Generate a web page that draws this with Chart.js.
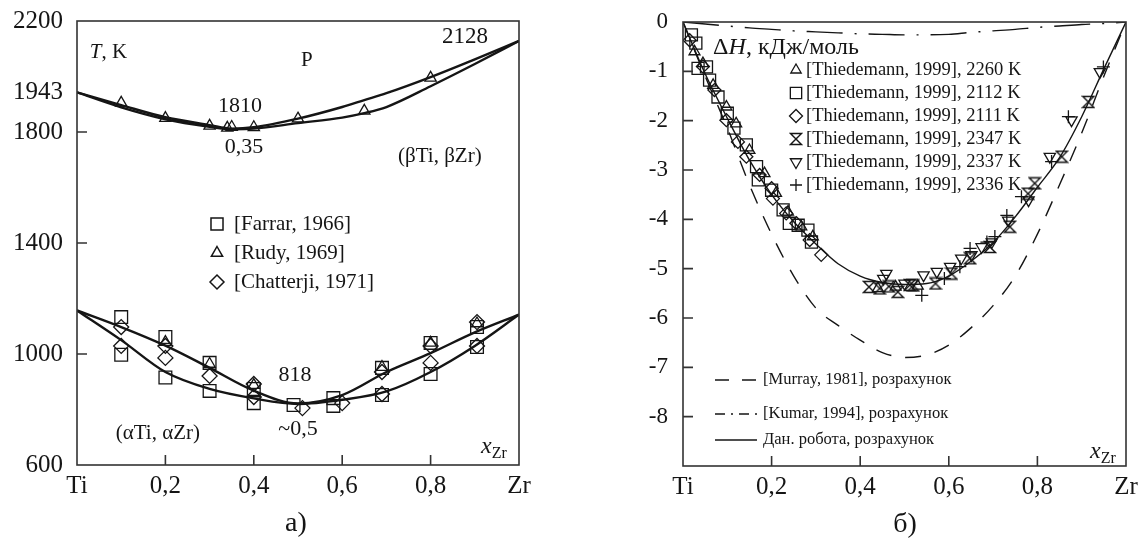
<!DOCTYPE html>
<html lang="uk">
<head>
<meta charset="UTF-8">
<title>Ti–Zr: діаграма стану та ентальпія змішування</title>
<script src="https://cdn.jsdelivr.net/npm/chart.js"></script>
<style>
  body { margin: 0; background: #fff; }
  #wrap { position: relative; width: 1143px; height: 540px; }
  canvas { position: absolute; top: 0; }
  #chartA { left: 0; }
  #chartB { left: 560px; }
</style>
</head>
<body>
<div id="wrap">
  <canvas id="chartA" width="560" height="540"></canvas>
  <canvas id="chartB" width="583" height="540"></canvas>
</div>
<script>
// ---- shared axis ticks ----
const xTickValues = [0, 0.2, 0.4, 0.6, 0.8, 1];
const xTickLabels = ['Ti', '0,2', '0,4', '0,6', '0,8', 'Zr'];
const yTicksA = [600, 1000, 1400, 1800, 1943, 2200];
const yMarksA = [1000, 1400, 1800];
const yTicksB = [0, -1, -2, -3, -4, -5, -6, -7, -8];

// ---- panel a: liquidus / solidus ----
const liqX = [0, 0.1, 0.2, 0.3, 0.35, 0.4, 0.5, 0.6, 0.65, 0.7, 0.8, 0.9, 1];
const liqT = [1943, 1897, 1853, 1825, 1812, 1817, 1848, 1890, 1915, 1940, 1998, 2062, 2128];
const solT = [1943, 1889, 1846, 1819, 1810, 1812, 1832, 1852, 1868, 1890, 1965, 2045, 2128];

// ---- panel a: beta / alpha transus ----
const trX = [0, 0.1, 0.2, 0.3, 0.4, 0.5, 0.6, 0.7, 0.8, 0.9, 1];
const betaT = [1157, 1097, 1030, 950, 868, 822, 852, 935, 1003, 1078, 1142];
const alphaT = [1157, 1050, 935, 874, 840, 820, 835, 865, 935, 1029, 1142];

// ---- panel a: experimental points ----
const farrarX = [0.1, 0.1, 0.2, 0.2, 0.3, 0.3, 0.4, 0.4, 0.49, 0.58, 0.58, 0.69, 0.69, 0.8, 0.8, 0.905, 0.905];
const farrarT = [1133, 997, 1061, 915, 968, 867, 874, 823, 816, 841, 813, 950, 852, 1040, 928, 1097, 1025];
const rudyX = [0.1, 0.2, 0.3, 0.34, 0.35, 0.4, 0.5, 0.65, 0.8, 0.2, 0.3, 0.4, 0.69, 0.8, 0.905];
const rudyT = [1905, 1850, 1822, 1815, 1818, 1817, 1848, 1876, 1995, 1043, 964, 888, 953, 1040, 1110];
const chatX = [0.1, 0.1, 0.2, 0.2, 0.3, 0.4, 0.4, 0.51, 0.6, 0.69, 0.69, 0.8, 0.8, 0.905, 0.905];
const chatT = [1097, 1029, 1029, 986, 921, 892, 845, 805, 823, 935, 856, 1029, 968, 1115, 1029];

// ---- panel b: calculated curves ----
const calcX = [0, 0.05, 0.1, 0.15, 0.2, 0.25, 0.3, 0.35, 0.4, 0.45, 0.5, 0.55, 0.6, 0.65, 0.7, 0.75, 0.8, 0.85, 0.9, 0.95, 1];
const murrayH = [0, -1.1, -2.15, -3.3, -4.3, -5.15, -5.8, -6.15, -6.45, -6.7, -6.8, -6.75, -6.55, -6.2, -5.75, -5.15, -4.3, -3.3, -2.25, -1.1, 0];
const kumarH = [0, -0.04, -0.08, -0.12, -0.15, -0.18, -0.2, -0.22, -0.24, -0.25, -0.26, -0.26, -0.25, -0.21, -0.18, -0.15, -0.11, -0.08, -0.05, -0.03, 0];
const workH = [0, -1.05, -1.95, -2.8, -3.5, -4.05, -4.5, -4.9, -5.15, -5.28, -5.32, -5.3, -5.15, -4.85, -4.47, -3.95, -3.35, -2.75, -1.92, -0.95, 0];

// ---- panel b: Thiedemann 1999 points ----
const t2260X = [0.026, 0.045, 0.068, 0.098, 0.12, 0.15, 0.184, 0.21, 0.237, 0.267, 0.293, 0.44, 0.48, 0.53];
const t2260H = [-0.6, -0.84, -1.28, -1.72, -2.06, -2.6, -3.07, -3.47, -3.85, -4.15, -4.35, -5.4, -5.37, -5.35];
const t2112X = [0.019, 0.029, 0.034, 0.053, 0.06, 0.079, 0.1, 0.115, 0.143, 0.166, 0.17, 0.2, 0.226, 0.24, 0.26, 0.282, 0.29];
const t2112H = [-0.26, -0.43, -0.94, -0.91, -1.18, -1.52, -1.85, -2.15, -2.49, -2.93, -3.2, -3.41, -3.81, -4.08, -4.12, -4.22, -4.46];
const t2111X = [0.015, 0.045, 0.071, 0.098, 0.124, 0.143, 0.173, 0.2, 0.203, 0.233, 0.256, 0.286, 0.312];
const t2111H = [-0.37, -0.9, -1.38, -1.99, -2.43, -2.73, -3.1, -3.37, -3.58, -3.88, -4.08, -4.42, -4.72];
const t2347X = [0.42, 0.444, 0.465, 0.485, 0.512, 0.52, 0.57, 0.606, 0.648, 0.693, 0.738, 0.779, 0.794, 0.855, 0.915];
const t2347H = [-5.37, -5.4, -5.36, -5.47, -5.33, -5.34, -5.3, -5.1, -4.79, -4.56, -4.15, -3.48, -3.27, -2.73, -1.62];
const t2337X = [0.452, 0.459, 0.5, 0.543, 0.573, 0.603, 0.628, 0.651, 0.674, 0.697, 0.734, 0.78, 0.828, 0.877, 0.941];
const t2337H = [-5.2, -5.1, -5.3, -5.13, -5.06, -4.96, -4.79, -4.72, -4.56, -4.46, -4.02, -3.61, -2.73, -1.99, -1.01];
const t2336X = [0.539, 0.59, 0.625, 0.648, 0.686, 0.704, 0.731, 0.764, 0.832, 0.87, 0.949];
const t2336H = [-5.54, -5.2, -4.96, -4.59, -4.46, -4.35, -3.92, -3.54, -2.83, -1.92, -0.91];

const serif = '"Liberation Serif", "Times New Roman", serif';
const ink = '#151515';

const pts = (xs, ys) => xs.map((x, i) => ({ x: x, y: ys[i] }));

// hourglass marker (no built-in style for it)
function hourglass(size) {
  const c = document.createElement('canvas');
  c.width = c.height = size;
  const g = c.getContext('2d');
  g.strokeStyle = ink;
  g.lineWidth = 1.4;
  g.lineJoin = 'miter';
  g.beginPath();
  g.moveTo(1.5, 1.5); g.lineTo(size - 1.5, 1.5); g.lineTo(1.5, size - 1.5); g.lineTo(size - 1.5, size - 1.5);
  g.closePath();
  g.stroke();
  return c;
}
const hgIcon = hourglass(14);

function drawSym(ctx, style, x, y, r) {
  ctx.beginPath();
  if (style === 'rect') {
    const s = r * Math.SQRT1_2;
    ctx.rect(x - s, y - s, 2 * s, 2 * s);
  } else if (style === 'triangle' || style === 'triangleDown') {
    const k = style === 'triangle' ? 1 : -1;
    ctx.moveTo(x, y - k * r);
    ctx.lineTo(x + r * 0.866, y + k * r * 0.5);
    ctx.lineTo(x - r * 0.866, y + k * r * 0.5);
    ctx.closePath();
  } else if (style === 'rectRot') {
    ctx.moveTo(x - r, y); ctx.lineTo(x, y - r); ctx.lineTo(x + r, y); ctx.lineTo(x, y + r);
    ctx.closePath();
  } else if (style === 'cross') {
    ctx.moveTo(x - r, y); ctx.lineTo(x + r, y); ctx.moveTo(x, y - r); ctx.lineTo(x, y + r);
  } else if (style === 'hourglass') {
    ctx.drawImage(hgIcon, x - hgIcon.width / 2, y - hgIcon.height / 2);
    return;
  }
  ctx.stroke();
}

// text made of runs: [text, kind]; kind '' | 'i' (italic) | 'sub'
function drawRuns(ctx, runs, x, y, size, align) {
  const fontOf = k => (k === 'i' ? 'italic ' : '') + (k === 'sub' ? Math.round(size * 0.68) : size) + 'px ' + serif;
  let total = 0;
  runs.forEach(r => { ctx.font = fontOf(r[1]); total += ctx.measureText(r[0]).width; });
  let cx = align === 'center' ? x - total / 2 : x;
  ctx.textAlign = 'left';
  ctx.textBaseline = 'middle';
  runs.forEach(r => {
    ctx.font = fontOf(r[1]);
    ctx.fillText(r[0], cx, y + (r[1] === 'sub' ? size * 0.28 : 0));
    cx += ctx.measureText(r[0]).width;
  });
}

function framePlugin(xMarks, yMarks) {
  return {
    id: 'frame',
    afterDraw(chart) {
      const { ctx, chartArea: a } = chart;
      const sx = chart.scales.x, sy = chart.scales.y;
      ctx.save();
      ctx.strokeStyle = '#333';
      ctx.lineWidth = 1.6;
      ctx.strokeRect(a.left, a.top, a.right - a.left, a.bottom - a.top);
      ctx.beginPath();
      xMarks.forEach(v => { const p = sx.getPixelForValue(v); ctx.moveTo(p, a.bottom); ctx.lineTo(p, a.bottom - 10); });
      yMarks.forEach(v => { const p = sy.getPixelForValue(v); ctx.moveTo(a.left, p); ctx.lineTo(a.left + 10, p); });
      ctx.stroke();
      ctx.restore();
    }
  };
}

function notesPlugin(notes, extra) {
  return {
    id: 'notes',
    afterDraw(chart) {
      const { ctx } = chart;
      const sx = chart.scales.x, sy = chart.scales.y;
      ctx.save();
      ctx.fillStyle = ink;
      notes.forEach(n => drawRuns(ctx, n.runs, sx.getPixelForValue(n.x), sy.getPixelForValue(n.y), n.size, n.align));
      extra(ctx, chart);
      ctx.restore();
    }
  };
}

function xAxis(h) {
  return {
    type: 'linear', min: 0, max: 1,
    grid: { display: false, drawTicks: false }, border: { display: false },
    afterBuildTicks: s => { s.ticks = xTickValues.map(v => ({ value: v })); },
    ticks: {
      autoSkip: false, maxRotation: 0, padding: 6, color: ink,
      font: { family: serif, size: 25 },
      callback: (v, i) => xTickLabels[i]
    },
    afterFit: s => { s.height = h; s.paddingLeft = 0; s.paddingRight = 0; }
  };
}

function yAxis(min, max, ticks, w, size, pad) {
  return {
    type: 'linear', min: min, max: max,
    grid: { display: false, drawTicks: false }, border: { display: false },
    afterBuildTicks: s => { s.ticks = ticks.map(v => ({ value: v })); },
    ticks: {
      autoSkip: false, padding: pad, color: ink,
      font: { family: serif, size: size },
      callback: v => String(v)
    },
    afterFit: s => { s.width = w; s.paddingTop = 0; s.paddingBottom = 0; }
  };
}

const lineDs = (data, width, dash) => ({
  data: data, showLine: true, borderColor: ink, borderWidth: width, borderDash: dash || [],
  pointRadius: 0, cubicInterpolationMode: 'monotone', fill: false
});
const markDs = (data, style, r, rot) => ({
  data: data, showLine: false, pointStyle: style, pointRadius: r, pointRotation: rot || 0,
  pointBorderColor: ink, pointBackgroundColor: 'rgba(0,0,0,0)', pointBorderWidth: 1.3
});

const baseOpts = {
  responsive: false, animation: false, events: [],
  plugins: { legend: { display: false }, tooltip: { enabled: false } }
};

// ---------------- panel a ----------------
const notesA = [
  { x: 0.029, y: 2088, size: 21, align: 'left', runs: [['T', 'i'], [', K', '']] },
  { x: 0.52, y: 2059, size: 21, align: 'center', runs: [['P', '']] },
  { x: 0.369, y: 1894, size: 22, align: 'center', runs: [['1810', '']] },
  { x: 0.378, y: 1746, size: 22, align: 'center', runs: [['0,35', '']] },
  { x: 0.878, y: 2142, size: 23, align: 'center', runs: [['2128', '']] },
  { x: 0.821, y: 1710, size: 21, align: 'center', runs: [['(βTi, βZr)', '']] },
  { x: 0.493, y: 924, size: 22, align: 'center', runs: [['818', '']] },
  { x: 0.5, y: 730, size: 22, align: 'center', runs: [['~0,5', '']] },
  { x: 0.183, y: 712, size: 21, align: 'center', runs: [['(αTi, αZr)', '']] },
  { x: 0.914, y: 665, size: 24, align: 'left', runs: [['x', 'i'], ['Zr', 'sub']] }
];
const legendA = [
  ['rect', 8.5, '[Farrar, 1966]'],
  ['triangle', 6.5, '[Rudy, 1969]'],
  ['rectRot', 7, '[Chatterji, 1971]']
];

new Chart(document.getElementById('chartA'), {
  type: 'scatter',
  data: {
    datasets: [
      lineDs(pts(liqX, liqT), 2.4),
      lineDs(pts(liqX, solT), 2.4),
      lineDs(pts(trX, betaT), 2.4),
      lineDs(pts(trX, alphaT), 2.4),
      markDs(pts(farrarX, farrarT), 'rect', 9),
      markDs(pts(rudyX, rudyT), 'triangle', 6.5),
      markDs(pts(chatX, chatT), 'rectRot', 7.5)
    ]
  },
  options: Object.assign({}, baseOpts, {
    layout: { padding: { top: 21, right: 41, left: 0, bottom: 0 } },
    scales: { x: xAxis(75), y: yAxis(600, 2200, yTicksA, 77, 25, 14) }
  }),
  plugins: [
    framePlugin(xTickValues.slice(1, 5), yMarksA),
    notesPlugin(notesA, (ctx, chart) => {
      ctx.strokeStyle = ink;
      ctx.lineWidth = 1.5;
      legendA.forEach((e, i) => {
        const y = 224 + i * 29;
        drawSym(ctx, e[0], 217, y, e[1]);
        drawRuns(ctx, [[e[2], '']], 234, y, 21, 'left');
      });
      drawRuns(ctx, [['а)', '']], 296, 524, 28, 'center');
    })
  ]
});

// ---------------- panel b ----------------
const notesB = [
  { x: 0.068, y: -0.53, size: 24, align: 'left', runs: [['Δ', ''], ['H', 'i'], [', кДж/моль', '']] },
  { x: 0.919, y: -8.72, size: 24, align: 'left', runs: [['x', 'i'], ['Zr', 'sub']] }
];
const legendB = [
  ['triangle', 6, '[Thiedemann, 1999], 2260 K'],
  ['rect', 8, '[Thiedemann, 1999], 2112 K'],
  ['rectRot', 6.5, '[Thiedemann, 1999], 2111 K'],
  ['hourglass', 6, '[Thiedemann, 1999], 2347 K'],
  ['triangleDown', 6.5, '[Thiedemann, 1999], 2337 K'],
  ['cross', 6, '[Thiedemann, 1999], 2336 K']
];
const lineLegendB = [
  [[14, 13], 380, '[Murray, 1981], розрахунок'],
  [[10, 6, 2, 6], 414, '[Kumar, 1994], розрахунок'],
  [[], 440, 'Дан. робота, розрахунок']
];

new Chart(document.getElementById('chartB'), {
  type: 'scatter',
  data: {
    datasets: [
      lineDs(pts(calcX, murrayH), 1.4, [16, 14]),
      lineDs(pts(calcX, kumarH), 1.4, [36, 12, 2, 12]),
      lineDs(pts(calcX, workH), 1.4),
      markDs(pts(t2260X, t2260H), 'triangle', 6.3),
      markDs(pts(t2112X, t2112H), 'rect', 8.5),
      markDs(pts(t2111X, t2111H), 'rectRot', 6.5),
      markDs(pts(t2347X, t2347H), hgIcon, 6),
      markDs(pts(t2337X, t2337H), 'triangle', 6.5, 180),
      markDs(pts(t2336X, t2336H), 'cross', 6.5)
    ]
  },
  options: Object.assign({}, baseOpts, {
    layout: { padding: { top: 22, right: 17, left: 0, bottom: 0 } },
    scales: { x: xAxis(74), y: yAxis(-9, 0, yTicksB, 123, 23, 15) }
  }),
  plugins: [
    framePlugin(xTickValues.slice(1, 5), yTicksB.slice(1)),
    notesPlugin(notesB, (ctx, chart) => {
      ctx.strokeStyle = ink;
      ctx.lineWidth = 1.3;
      legendB.forEach((e, i) => {
        const y = 70 + i * 23;
        drawSym(ctx, e[0], 236, y, e[1]);
        drawRuns(ctx, [[e[2], '']], 246, y, 18.5, 'left');
      });
      lineLegendB.forEach(e => {
        ctx.save();
        ctx.setLineDash(e[0]);
        ctx.beginPath();
        ctx.moveTo(155, e[1]); ctx.lineTo(197, e[1]);
        ctx.stroke();
        ctx.restore();
        drawRuns(ctx, [[e[2], '']], 203, e[1], 16.5, 'left');
      });
      drawRuns(ctx, [['б)', '']], 345, 525, 28, 'center');
    })
  ]
});
</script>
</body>
</html>
